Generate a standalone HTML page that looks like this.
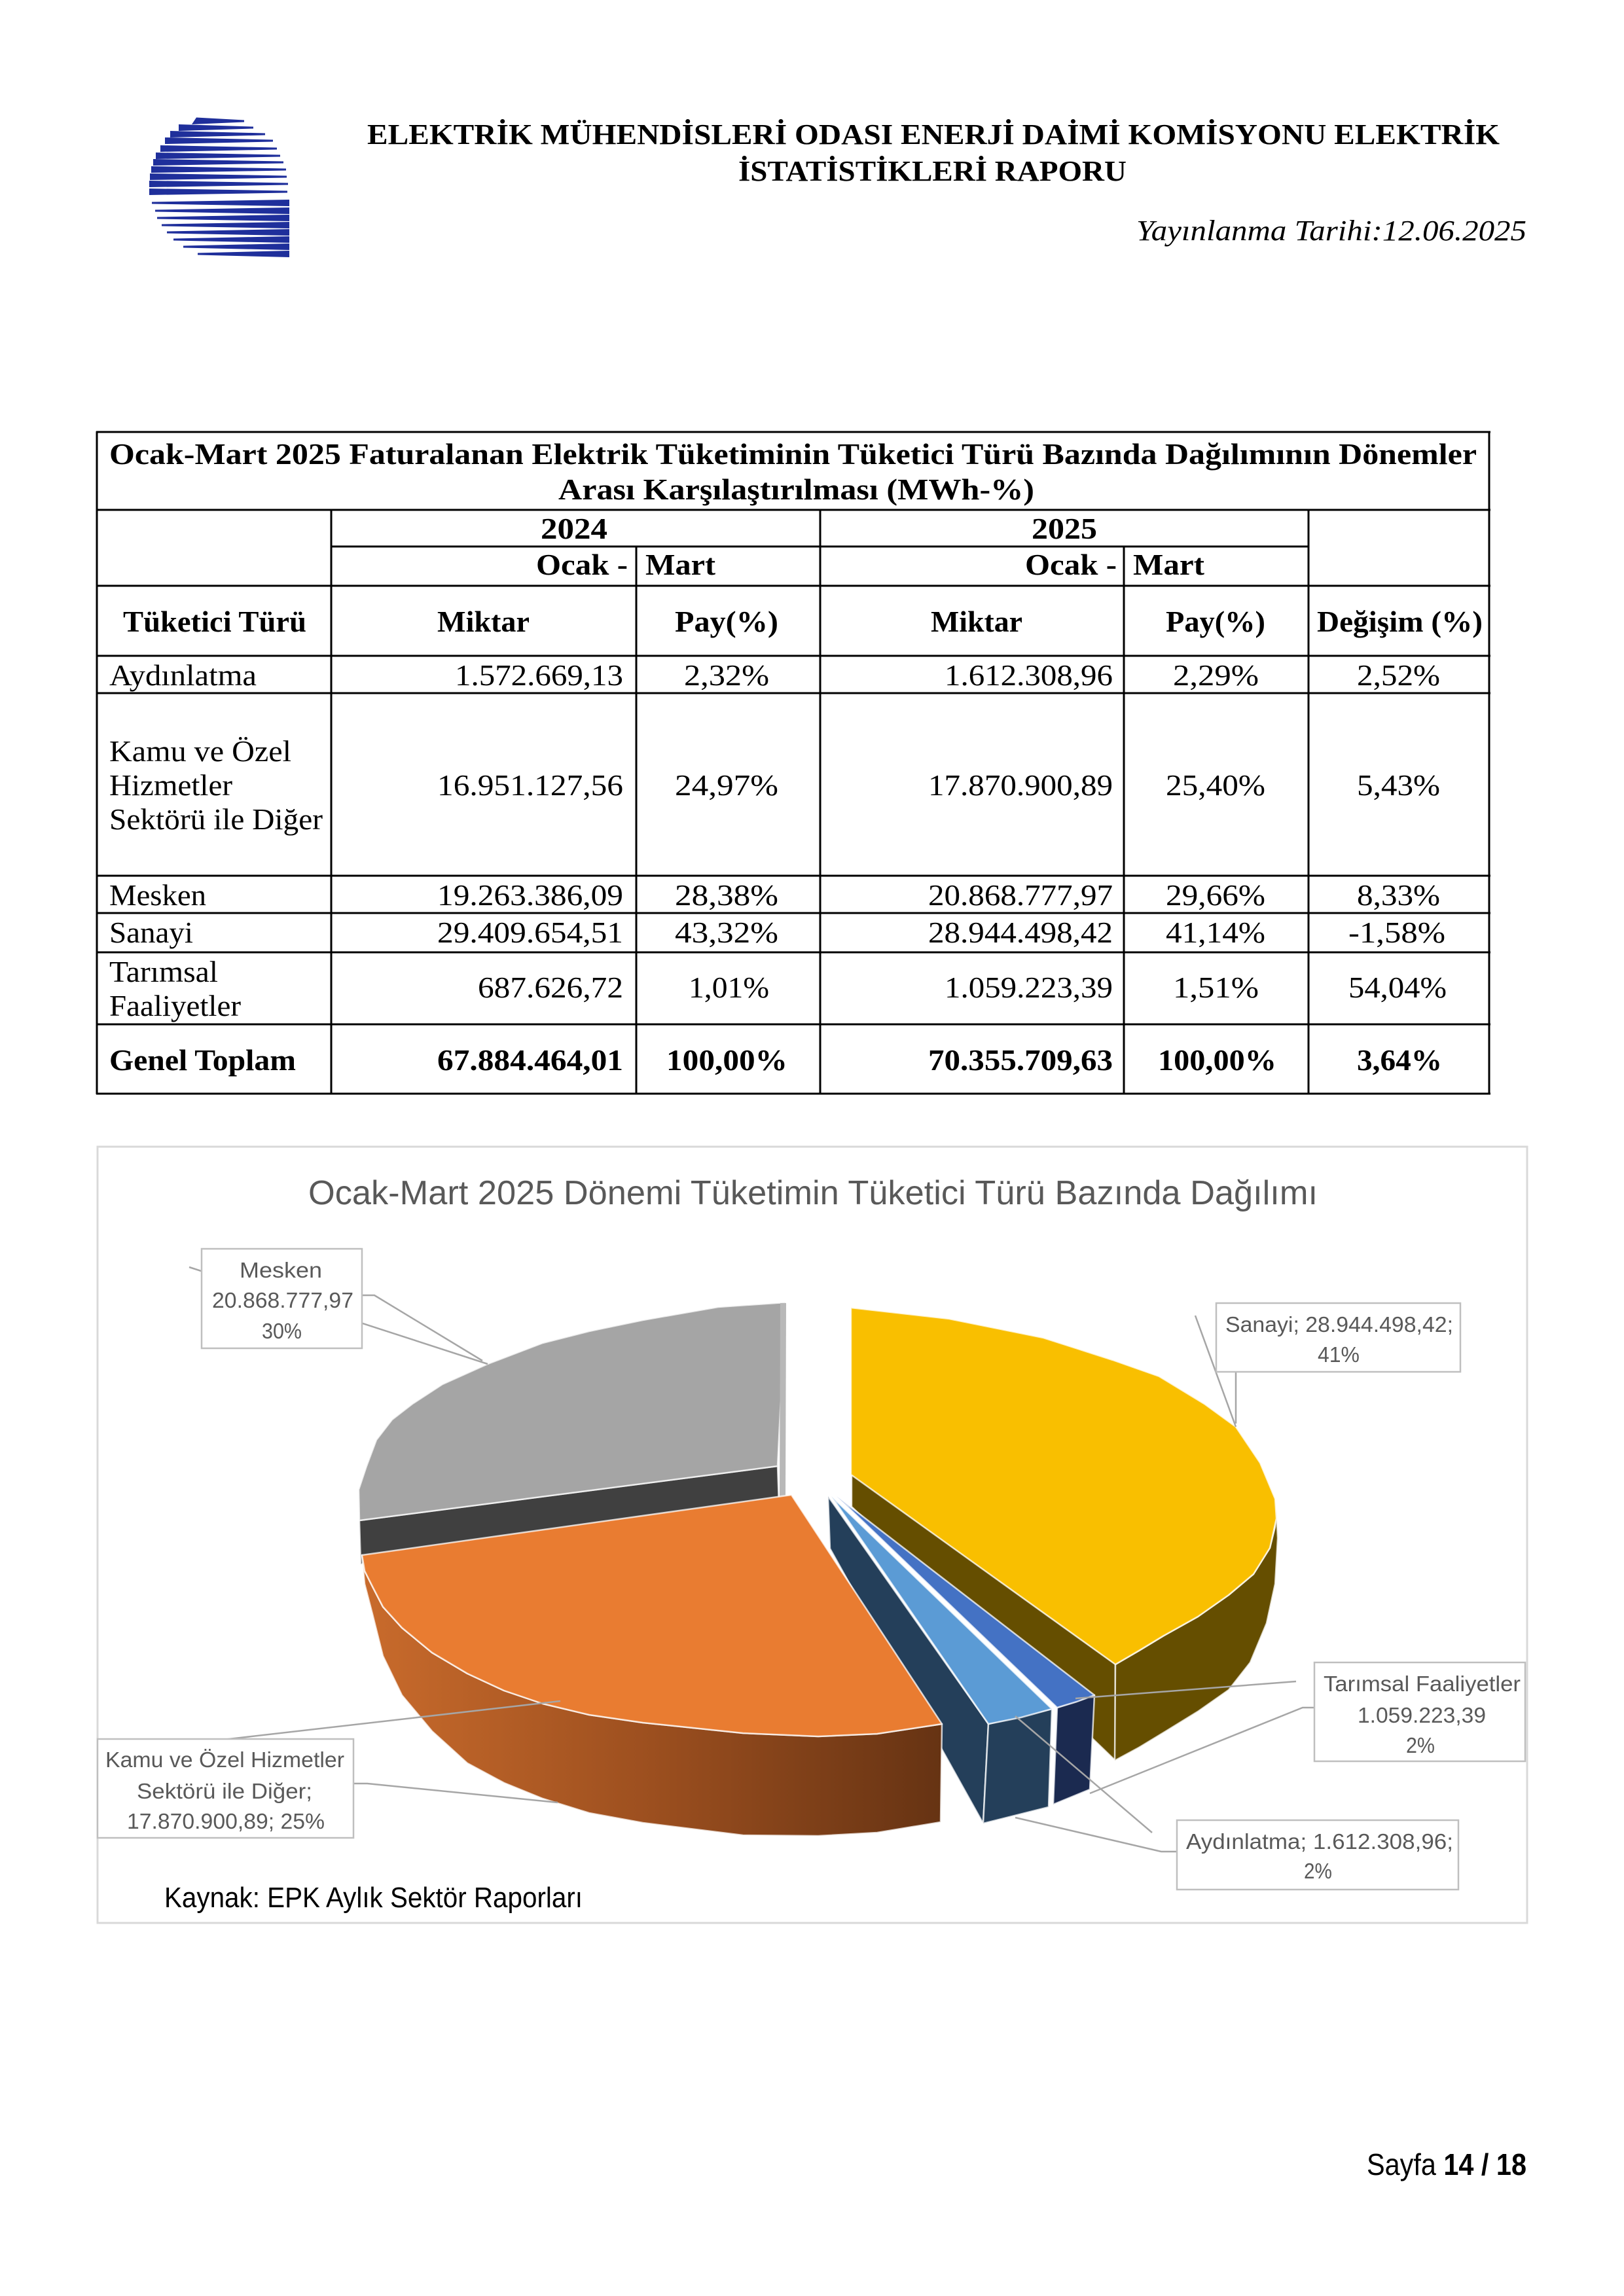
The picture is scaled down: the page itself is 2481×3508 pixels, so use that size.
<!DOCTYPE html>
<html><head><meta charset="utf-8"><style>
html,body{margin:0;padding:0;background:#fff;}
svg{display:block;}
.s{font-family:"Liberation Serif",serif;}
.a{font-family:"Liberation Sans",sans-serif;}
</style></head><body>
<svg width="2481" height="3508" viewBox="0 0 2481 3508" xmlns="http://www.w3.org/2000/svg">
<rect width="2481" height="3508" fill="#fff"/>
<!-- LOGO -->
<g fill="#1f2f9b">
<polygon points="300,179.5 293,190 373,186.5 373,183.5"/>
<polygon points="273,190 273,200 387,196.5 387,193.5"/>
<polygon points="260,200 260,210 405,206.5 405,203.5"/>
<polygon points="252,210 252,220 417,216.5 417,213.5"/>
<polygon points="245,222 245,232 423,228.5 423,225.5"/>
<polygon points="238,233 238,243 428,239.5 428,236.5"/>
<polygon points="234,243 234,253 433,249.5 433,246.5"/>
<polygon points="231,254 231,264 437,260.5 437,257.5"/>
<polygon points="229,265 229,275 438,271.5 438,268.5"/>
<polygon points="228,276 228,286 440,282.5 440,279.5"/>
<polygon points="228,288 228,298 439,294.5 439,291.5"/>
<polygon points="232,308.5 232,311.5 442,315 442,305"/>
<polygon points="237,320.5 237,323.5 442,327 442,317"/>
<polygon points="240,331.5 240,334.5 442,338 442,328"/>
<polygon points="247,342.5 247,345.5 442,349 442,339"/>
<polygon points="255,353.5 255,356.5 442,360 442,350"/>
<polygon points="265,364.5 265,367.5 442,371 442,361"/>
<polygon points="280,375.5 280,378.5 442,382 442,372"/>
<polygon points="302,386.5 302,389.5 442,393 442,383"/>
</g>
<!-- HEADER -->
<g class="s" font-weight="bold" font-size="44" fill="#000">
<text x="561" y="220" textLength="1730" lengthAdjust="spacingAndGlyphs">ELEKTRİK MÜHENDİSLERİ ODASI ENERJİ DAİMİ KOMİSYONU ELEKTRİK</text>
<text x="1128" y="276" textLength="593" lengthAdjust="spacingAndGlyphs">İSTATİSTİKLERİ RAPORU</text>
</g>
<text class="s" x="1736" y="367" font-style="italic" font-size="44" textLength="596" lengthAdjust="spacingAndGlyphs">Yayınlanma Tarihi:12.06.2025</text>

<!-- TABLE LINES -->
<g stroke="#000" stroke-width="3">
<line x1="147" y1="660" x2="2277" y2="660"/>
<line x1="147" y1="779" x2="2277" y2="779"/>
<line x1="505" y1="835" x2="1999" y2="835"/>
<line x1="147" y1="895" x2="2277" y2="895"/>
<line x1="147" y1="1002" x2="2277" y2="1002"/>
<line x1="147" y1="1059" x2="2277" y2="1059"/>
<line x1="147" y1="1338" x2="2277" y2="1338"/>
<line x1="147" y1="1395" x2="2277" y2="1395"/>
<line x1="147" y1="1455" x2="2277" y2="1455"/>
<line x1="147" y1="1565" x2="2277" y2="1565"/>
<line x1="147" y1="1671" x2="2277" y2="1671"/>
<line x1="148" y1="659" x2="148" y2="1672"/>
<line x1="2275" y1="659" x2="2275" y2="1672"/>
<line x1="506" y1="779" x2="506" y2="1671"/>
<line x1="972" y1="835" x2="972" y2="1671"/>
<line x1="1253" y1="779" x2="1253" y2="1671"/>
<line x1="1717" y1="835" x2="1717" y2="1671"/>
<line x1="1999" y1="779" x2="1999" y2="1671"/>
</g>
<!-- TABLE TEXT -->
<g class="s" font-size="46" fill="#000">
<g font-weight="bold">
<text x="167" y="709" textLength="2089" lengthAdjust="spacingAndGlyphs">Ocak-Mart 2025 Faturalanan Elektrik Tüketiminin Tüketici Türü Bazında Dağılımının Dönemler</text>
<text x="853" y="763" textLength="727" lengthAdjust="spacingAndGlyphs">Arası Karşılaştırılması (MWh-%)</text>
<text x="826" y="823" textLength="102" lengthAdjust="spacingAndGlyphs">2024</text>
<text x="1576" y="823" textLength="100" lengthAdjust="spacingAndGlyphs">2025</text>
<text x="819" y="878" textLength="140" lengthAdjust="spacingAndGlyphs">Ocak -</text>
<text x="986" y="878" textLength="107" lengthAdjust="spacingAndGlyphs">Mart</text>
<text x="1566" y="878" textLength="140" lengthAdjust="spacingAndGlyphs">Ocak -</text>
<text x="1731" y="878" textLength="109" lengthAdjust="spacingAndGlyphs">Mart</text>
<text x="188" y="965" textLength="280" lengthAdjust="spacingAndGlyphs">Tüketici Türü</text>
<text x="668" y="965" textLength="141" lengthAdjust="spacingAndGlyphs">Miktar</text>
<text x="1031" y="965" textLength="158" lengthAdjust="spacingAndGlyphs">Pay(%)</text>
<text x="1422" y="965" textLength="140" lengthAdjust="spacingAndGlyphs">Miktar</text>
<text x="1781" y="965" textLength="152" lengthAdjust="spacingAndGlyphs">Pay(%)</text>
<text x="2012" y="965" textLength="253" lengthAdjust="spacingAndGlyphs">Değişim (%)</text>
<text x="167" y="1635" textLength="285" lengthAdjust="spacingAndGlyphs">Genel Toplam</text>
<text x="668" y="1635" textLength="284" lengthAdjust="spacingAndGlyphs">67.884.464,01</text>
<text x="1018" y="1635" textLength="185" lengthAdjust="spacingAndGlyphs">100,00%</text>
<text x="1418" y="1635" textLength="282" lengthAdjust="spacingAndGlyphs">70.355.709,63</text>
<text x="1769" y="1635" textLength="181" lengthAdjust="spacingAndGlyphs">100,00%</text>
<text x="2073" y="1635" textLength="130" lengthAdjust="spacingAndGlyphs">3,64%</text>
</g>
<text x="167" y="1047" textLength="225" lengthAdjust="spacingAndGlyphs">Aydınlatma</text>
<text x="695" y="1047" textLength="257" lengthAdjust="spacingAndGlyphs">1.572.669,13</text>
<text x="1045" y="1047" textLength="130" lengthAdjust="spacingAndGlyphs">2,32%</text>
<text x="1443" y="1047" textLength="257" lengthAdjust="spacingAndGlyphs">1.612.308,96</text>
<text x="1792" y="1047" textLength="131" lengthAdjust="spacingAndGlyphs">2,29%</text>
<text x="2073" y="1047" textLength="127" lengthAdjust="spacingAndGlyphs">2,52%</text>

<text x="167" y="1163" textLength="278" lengthAdjust="spacingAndGlyphs">Kamu ve Özel</text>
<text x="167" y="1215" textLength="188" lengthAdjust="spacingAndGlyphs">Hizmetler</text>
<text x="167" y="1267" textLength="326" lengthAdjust="spacingAndGlyphs">Sektörü ile Diğer</text>
<text x="668" y="1215" textLength="284" lengthAdjust="spacingAndGlyphs">16.951.127,56</text>
<text x="1031" y="1215" textLength="158" lengthAdjust="spacingAndGlyphs">24,97%</text>
<text x="1418" y="1215" textLength="282" lengthAdjust="spacingAndGlyphs">17.870.900,89</text>
<text x="1781" y="1215" textLength="152" lengthAdjust="spacingAndGlyphs">25,40%</text>
<text x="2073" y="1215" textLength="127" lengthAdjust="spacingAndGlyphs">5,43%</text>

<text x="167" y="1383" textLength="148" lengthAdjust="spacingAndGlyphs">Mesken</text>
<text x="668" y="1383" textLength="284" lengthAdjust="spacingAndGlyphs">19.263.386,09</text>
<text x="1031" y="1383" textLength="158" lengthAdjust="spacingAndGlyphs">28,38%</text>
<text x="1418" y="1383" textLength="282" lengthAdjust="spacingAndGlyphs">20.868.777,97</text>
<text x="1781" y="1383" textLength="152" lengthAdjust="spacingAndGlyphs">29,66%</text>
<text x="2073" y="1383" textLength="127" lengthAdjust="spacingAndGlyphs">8,33%</text>

<text x="167" y="1440" textLength="128" lengthAdjust="spacingAndGlyphs">Sanayi</text>
<text x="668" y="1440" textLength="284" lengthAdjust="spacingAndGlyphs">29.409.654,51</text>
<text x="1031" y="1440" textLength="158" lengthAdjust="spacingAndGlyphs">43,32%</text>
<text x="1418" y="1440" textLength="282" lengthAdjust="spacingAndGlyphs">28.944.498,42</text>
<text x="1781" y="1440" textLength="152" lengthAdjust="spacingAndGlyphs">41,14%</text>
<text x="2060" y="1440" textLength="148" lengthAdjust="spacingAndGlyphs">-1,58%</text>

<text x="167" y="1500" textLength="166" lengthAdjust="spacingAndGlyphs">Tarımsal</text>
<text x="167" y="1552" textLength="201" lengthAdjust="spacingAndGlyphs">Faaliyetler</text>
<text x="730" y="1524" textLength="222" lengthAdjust="spacingAndGlyphs">687.626,72</text>
<text x="1052" y="1524" textLength="123" lengthAdjust="spacingAndGlyphs">1,01%</text>
<text x="1443" y="1524" textLength="257" lengthAdjust="spacingAndGlyphs">1.059.223,39</text>
<text x="1792" y="1524" textLength="131" lengthAdjust="spacingAndGlyphs">1,51%</text>
<text x="2060" y="1524" textLength="150" lengthAdjust="spacingAndGlyphs">54,04%</text>
</g>

<!-- CHART -->
<defs>
<linearGradient id="og" x1="553" y1="0" x2="1439" y2="0" gradientUnits="userSpaceOnUse">
<stop offset="0" stop-color="#c96b2c"/>
<stop offset="0.5" stop-color="#9c4f1f"/>
<stop offset="1" stop-color="#663313"/>
</linearGradient>
</defs>
<rect x="149" y="1752" width="2184" height="1186" fill="#fff" stroke="#d9d9d9" stroke-width="3"/>
<text class="a" x="471" y="1840" font-size="52" fill="#595959" textLength="1542" lengthAdjust="spacingAndGlyphs">Ocak-Mart 2025 Dönemi Tüketimin Tüketici Türü Bazında Dağılımı</text>

<g stroke="#ffffff" stroke-width="2.5" stroke-opacity="0.75" stroke-linejoin="round">
<!-- Mesken -->
<polygon fill="#404040" points="549,2323 1188,2240 1190,2300 551,2390"/>
<polygon fill="#a5a5a5" points="1200,1990 1097,1997 982,2017 900,2034 829,2052 745,2084 676,2115 630,2145 599,2169 575,2200 560,2240 548,2276 549,2323 1188,2240"/>
<polygon fill="#b8b8b8" stroke="none" points="1192,1991 1201,1991 1200,2288 1191,2288"/>
<!-- Sanayi -->
<polygon fill="#654e00" points="1301,2252 1704,2542 1704,2690 1301,2302"/>
<polygon fill="#654e00" points="1950,2305 1948,2333 1940,2365 1915,2405 1877,2437 1830,2470 1778,2499 1740,2522 1704,2543 1703,2690 1740,2670 1778,2647 1830,2615 1877,2582 1910,2540 1935,2480 1948,2420 1952,2350"/>
<polygon fill="#f9bf00" points="1300,1998 1450,2015 1594,2044 1700,2078 1771,2103 1840,2145 1888,2180 1925,2235 1948,2290 1950,2320 1940,2365 1915,2405 1877,2437 1830,2470 1778,2499 1740,2522 1704,2543 1300,2253"/>
<!-- Aydınlatma / light blue cut face & rim -->
<polygon fill="#243f5a" points="1265,2286 1510,2634 1502,2786 1268,2366"/>
<polygon fill="#243f5a" points="1510,2634 1607,2611 1602,2761 1502,2786"/>
<!-- Kamu -->
<polygon fill="url(#og)" points="553,2376 557,2400 569,2424 585,2455 614,2487 660,2525 714,2557 770,2583 829,2603 900,2620 982,2632 1135,2648 1250,2653 1340,2649 1439,2634 1437,2784 1340,2800 1250,2805 1135,2804 982,2785 900,2770 829,2748 770,2724 714,2694 660,2645 614,2590 585,2530 569,2466 557,2420"/>
<polygon fill="#e97c31" points="553,2376 1209,2284 1439,2634 1340,2649 1250,2653 1135,2648 982,2632 900,2620 829,2603 770,2583 714,2557 660,2525 614,2487 585,2455 569,2424 557,2400"/>
<!-- light blue top -->
<polygon fill="#5b9bd5" points="1270,2286 1607,2611 1560,2624 1510,2634"/>
<!-- Tarımsal blue -->
<polygon fill="#1b2a50" points="1615,2609 1672,2590 1665,2734 1609,2757"/>
<polygon fill="#4472c4" points="1278,2286 1672,2590 1645,2600 1615,2609"/>
</g>

<!-- Leader lines -->
<g stroke="#a6a6a6" stroke-width="2.5" fill="none">
<line x1="289" y1="1936" x2="745" y2="2084"/>
<polyline points="553,1979 572,1979 737,2079"/>
<line x1="1826" y1="2010" x2="1888" y2="2180"/>
<line x1="1888" y1="2096" x2="1888" y2="2175"/>
<line x1="1980" y1="2569" x2="1643" y2="2595"/>
<polyline points="2008,2609 1990,2609 1665,2740"/>
<polyline points="1798,2829 1774,2829 1551,2777"/>
<line x1="1760" y1="2800" x2="1551" y2="2622"/>
<line x1="149" y1="2680" x2="856" y2="2599"/>
<polyline points="540,2725 561,2725 852,2754"/>
</g>

<!-- Label boxes -->
<g fill="#fff" stroke="#bfbfbf" stroke-width="2.5">
<rect x="308" y="1908" width="245" height="152"/>
<rect x="1858" y="1991" width="373" height="105"/>
<rect x="2008" y="2540" width="322" height="151"/>
<rect x="1798" y="2781" width="430" height="106"/>
<rect x="149" y="2657" width="391" height="151"/>
</g>
<g class="a" font-size="33" fill="#595959">
<text x="366" y="1952" textLength="126" lengthAdjust="spacingAndGlyphs">Mesken</text>
<text x="324" y="1998" textLength="216" lengthAdjust="spacingAndGlyphs">20.868.777,97</text>
<text x="400" y="2045" textLength="61" lengthAdjust="spacingAndGlyphs">30%</text>
<text x="1872" y="2035" textLength="348" lengthAdjust="spacingAndGlyphs">Sanayi; 28.944.498,42;</text>
<text x="2013" y="2081" textLength="64" lengthAdjust="spacingAndGlyphs">41%</text>
<text x="2022" y="2584" textLength="301" lengthAdjust="spacingAndGlyphs">Tarımsal Faaliyetler</text>
<text x="2074" y="2632" textLength="196" lengthAdjust="spacingAndGlyphs">1.059.223,39</text>
<text x="2148" y="2678" textLength="44" lengthAdjust="spacingAndGlyphs">2%</text>
<text x="1812" y="2825" textLength="408" lengthAdjust="spacingAndGlyphs">Aydınlatma; 1.612.308,96;</text>
<text x="1992" y="2870" textLength="43" lengthAdjust="spacingAndGlyphs">2%</text>
<text x="161" y="2700" textLength="365" lengthAdjust="spacingAndGlyphs">Kamu ve Özel Hizmetler</text>
<text x="209" y="2748" textLength="268" lengthAdjust="spacingAndGlyphs">Sektörü ile Diğer;</text>
<text x="194" y="2794" textLength="302" lengthAdjust="spacingAndGlyphs">17.870.900,89; 25%</text>
</g>
<text class="a" x="251" y="2914" font-size="44" fill="#000" textLength="639" lengthAdjust="spacingAndGlyphs">Kaynak: EPK Aylık Sektör Raporları</text>

<!-- FOOTER -->
<text class="a" x="2088" y="3323" font-size="46" fill="#000" textLength="244" lengthAdjust="spacingAndGlyphs">Sayfa <tspan font-weight="bold">14 / 18</tspan></text>
</svg>
</body></html>
